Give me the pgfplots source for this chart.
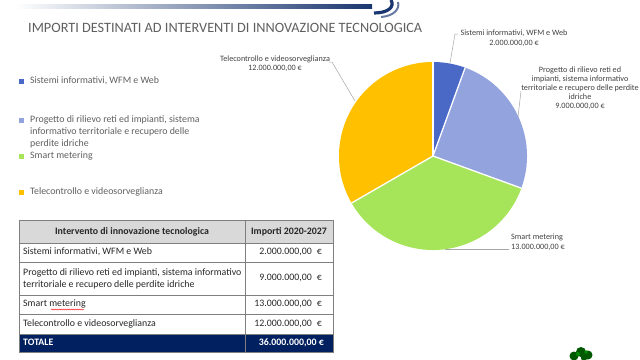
\documentclass[border=0pt]{standalone}
\usepackage{pgfplots}
\pgfplotsset{compat=1.18}
\usepackage{pgfplotstable}
\usepackage{fontspec}
\setmainfont{Carlito}
\definecolor{cSist}{HTML}{4A69C6}
\definecolor{cProg}{HTML}{92A3DE}
\definecolor{cSmart}{HTML}{A6E45A}
\definecolor{cTele}{HTML}{FFC000}
\definecolor{navy}{HTML}{002060}
\definecolor{txt}{HTML}{5F5F5F}
\definecolor{lbl}{HTML}{404040}
\definecolor{lead}{HTML}{A6A6A6}
\definecolor{hdr}{HTML}{D9D9D9}
\definecolor{grid}{HTML}{7F7F7F}

% values in millions of euro
\pgfplotstableread{
name value col
Sistemi 2 cSist
Progetto 9 cProg
Smart 13 cSmart
Tele 12 cTele
}\piedata

\begin{document}
\begin{tikzpicture}
\useasboundingbox (0bp,0bp) rectangle (640bp,-360bp);
\begin{scope}[x=1bp,y=-1bp]
% top bar and logo
\shade[left color=white, right color=navy!90] (15,4) rectangle (372,9);
\draw[navy!90, line width=3.2bp] (374,13) .. controls (388,13) and (395,7) .. (391,0);
\draw[navy!60, line width=2bp] (381,17) .. controls (394,16) and (400,9) .. (398,2);
% title
\node[anchor=base west, inner sep=0, text=txt, font=\fontsize{14.3}{17}\selectfont] at (28,32.5)
  {IMPORTI DESTINATI AD INTERVENTI DI INNOVAZIONE TECNOLOGICA};
% legend
\tikzset{leg/.style={anchor=mid west, inner sep=0, text=txt, font=\fontsize{9.9}{11}\selectfont}}
\fill[cSist] (19,78.5) rectangle (24,83.5);
\node[leg] at (30,81) {Sistemi informativi, WFM e Web};
\fill[cProg] (19,117.5) rectangle (24,122.5);
\node[leg] at (30,120) {Progetto di rilievo reti ed impianti, sistema};
\node[leg] at (30,132) {informativo territoriale e recupero delle};
\node[leg] at (30,144) {perdite idriche};
\fill[cSmart] (19,153.5) rectangle (24,158.5);
\node[leg] at (30,156) {Smart metering};
\fill[cTele] (19,189.5) rectangle (24,194.5);
\node[leg] at (30,192) {Telecontrollo e videosorveglianza};
% table
\fill[hdr] (19,220) rectangle (333,243);
\fill[navy] (19,334) rectangle (333,352);
\draw[grid, line width=0.6bp] (19,220) rectangle (333,352);
\foreach \yy in {243,262,295,314,334} \draw[grid, line width=0.6bp] (19,\yy) -- (333,\yy);
\draw[grid, line width=0.6bp] (245,220) -- (245,352);
\tikzset{cell/.style={inner sep=0, text=black!85, font=\fontsize{9.9}{11}\selectfont}}
\node[cell, anchor=mid, font=\fontsize{9.9}{11}\selectfont\bfseries] at (132,232) {Intervento di innovazione tecnologica};
\node[cell, anchor=mid, font=\fontsize{9.9}{11}\selectfont\bfseries] at (289,232) {Importi 2020-2027};
\node[cell, anchor=mid west] at (23,252.5) {Sistemi informativi, WFM e Web};
\node[cell, anchor=mid west] at (23,273) {Progetto di rilievo reti ed impianti, sistema informativo};
\node[cell, anchor=mid west] at (23,285) {territoriale e recupero delle perdite idriche};
\node[cell, anchor=mid west] at (23,304.5) {Smart metering};
\draw[red, line width=0.4bp, decorate, decoration={snake, amplitude=0.5bp, segment length=2bp}] (51,309.5) -- (84,309.5);
\node[cell, anchor=mid west] at (23,324) {Telecontrollo e videosorveglianza};
\node[cell, anchor=mid east] at (322,252.5) {2.000.000,00\enspace€};
\node[cell, anchor=mid east] at (322,278.5) {9.000.000,00\enspace€};
\node[cell, anchor=mid east] at (322,304.5) {13.000.000,00\enspace€};
\node[cell, anchor=mid east] at (322,324) {12.000.000,00\enspace€};
\node[cell, anchor=mid west, text=white, font=\fontsize{9.9}{11}\selectfont\bfseries] at (23,343) {TOTALE};
\node[cell, anchor=mid east, text=white, font=\fontsize{9.9}{11}\selectfont\bfseries] at (324,343) {36.000.000,00 €};
% pie labels and leaders
\tikzset{pl/.style={anchor=mid, inner sep=0, text=lbl, font=\fontsize{8.2}{9}\selectfont}}
\node[pl] at (514,33) {Sistemi informativi, WFM e Web};
\node[pl] at (514,43) {2.000.000,00 €};
\draw[lead, line width=0.5bp] (458,34) -- (455,34) -- (450,63);
\node[pl] at (580,70) {Progetto di rilievo reti ed};
\node[pl] at (580,79) {impianti, sistema informativo};
\node[pl] at (580,88) {territoriale e recupero delle perdite};
\node[pl] at (580,97) {idriche};
\node[pl] at (580,106) {9.000.000,00 €};
\draw[lead, line width=0.5bp] (521,91) -- (518,117);
\node[pl] at (275,59) {Telecontrollo e videosorveglianza};
\node[pl] at (275,68) {12.000.000,00 €};
\draw[lead, line width=0.5bp] (329,62) -- (332,62) -- (355,101);
\node[pl, anchor=mid west] at (511,237) {Smart metering};
\node[pl, anchor=mid west] at (511,247) {13.000.000,00 €};
\draw[lead, line width=0.5bp] (445,249) -- (509,249);
% small tree logo bottom right
\fill[green!35!black] (574,356) circle (4.5) (581,352) circle (5) (588,355) circle (4.5) (584,358) circle (3);
\fill[green!55!black] (578,354) circle (2) (586,352) circle (1.8);
\end{scope}
\begin{axis}[hide axis, x={(94bp,0bp)}, y={(0bp,94bp)},
  xmin=-1, xmax=1, ymin=-1, ymax=1,
  at={(433bp,-156bp)}, anchor=origin, clip=false]
\addplot[draw=none, forget plot] coordinates {(0,0)};
\pgfplotsextra{
  \pgfplotstablegetrowsof{\piedata}
  \pgfmathtruncatemacro\lastrow{\pgfplotsretval-1}
  \def\total{0}
  \pgfplotsforeachungrouped \r in {0,...,\lastrow}{%
    \pgfplotstablegetelem{\r}{value}\of\piedata
    \pgfmathsetmacro\total{\total+\pgfplotsretval}}
  \def\startang{90}
  \pgfplotsforeachungrouped \r in {0,...,\lastrow}{%
    \pgfplotstablegetelem{\r}{value}\of\piedata
    \let\sliceval\pgfplotsretval
    \pgfplotstablegetelem{\r}{col}\of\piedata
    \let\slicecol\pgfplotsretval
    \pgfmathsetmacro\endang{\startang-360*\sliceval/\total}
    \fill[fill=\slicecol] (axis cs:0,0) -- (axis cs:{cos(\startang)},{sin(\startang)})
      arc[start angle=\startang, end angle=\endang, radius=94bp] -- cycle;
    \let\startang\endang}
  \def\startang{90}
  \pgfplotsforeachungrouped \r in {0,...,\lastrow}{%
    \pgfplotstablegetelem{\r}{value}\of\piedata
    \let\sliceval\pgfplotsretval
    \draw[white, line width=1.3bp] (axis cs:0,0) -- (axis cs:{cos(\startang)},{sin(\startang)});
    \pgfmathsetmacro\startang{\startang-360*\sliceval/\total}}
}
\end{axis}
\end{tikzpicture}
\end{document}
